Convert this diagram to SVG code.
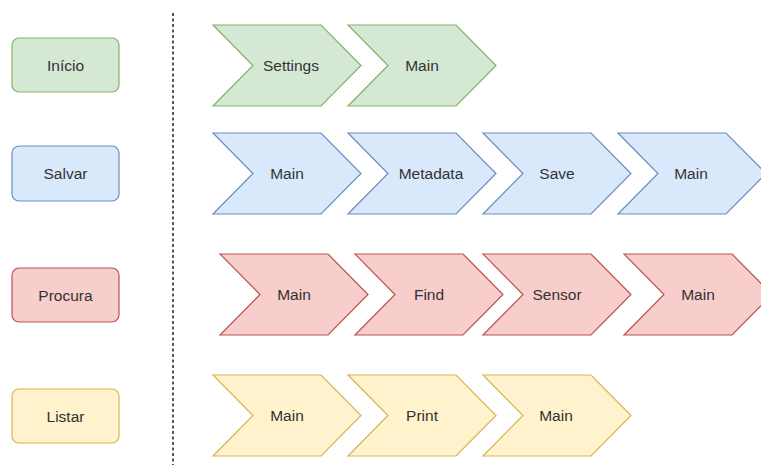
<svg xmlns="http://www.w3.org/2000/svg" width="761" height="465" viewBox="0 0 761 465">
  <defs>
    <style>
      text { font-family: "Liberation Sans", Arial, sans-serif; font-size: 15.5px; fill: #333333; text-anchor: middle; dominant-baseline: central; }
      .green { fill: #d5e8d4; stroke: #82b366; }
      .blue { fill: #dae8fc; stroke: #6c8ebf; }
      .red { fill: #f8cecc; stroke: #b85450; }
      .yellow { fill: #fff2cc; stroke: #d6b656; }
      rect, polygon { stroke-width: 1.2; }
    </style>
    <!-- step shape: 148 wide, 81 high, notch depth 40 -->
    <polygon id="step" points="0,0 108,0 148,40.5 108,81 0,81 40,40.5"/>
  </defs>
  <rect width="761" height="465" fill="#ffffff"/>

  <!-- separator -->
  <g id="connectors">
    <line x1="173" y1="13" x2="173" y2="465" stroke="#222222" stroke-width="1.5" stroke-dasharray="3 2.5"/>
  </g>

  <!-- legend -->
  <g id="inicio"><rect class="green" x="12" y="38" width="107" height="54" rx="7"/><text x="65.5" y="65">Início</text></g>
  <g id="salvar"><rect class="blue" x="12" y="146" width="107" height="55" rx="7"/><text x="65.5" y="173.5">Salvar</text></g>
  <g id="procura"><rect class="red" x="12" y="268" width="107" height="54" rx="7"/><text x="65.5" y="295">Procura</text></g>
  <g id="listar"><rect class="yellow" x="12" y="389" width="107" height="54" rx="7"/><text x="65.5" y="416">Listar</text></g>

  <!-- row 1: Início -->
  <g id="r1-settings"><use href="#step" class="green" x="213" y="25"/><text x="291" y="65.5">Settings</text></g>
  <g id="r1-main"><use href="#step" class="green" x="348" y="25"/><text x="422" y="65.5">Main</text></g>

  <!-- row 2: Salvar -->
  <g id="r2-main"><use href="#step" class="blue" x="213" y="133"/><text x="287" y="173.5">Main</text></g>
  <g id="r2-metadata"><use href="#step" class="blue" x="348" y="133"/><text x="431" y="173.5">Metadata</text></g>
  <g id="r2-save"><use href="#step" class="blue" x="483" y="133"/><text x="557" y="173.5">Save</text></g>
  <g id="r2-main2"><use href="#step" class="blue" x="618" y="133"/><text x="691" y="173.5">Main</text></g>

  <!-- row 3: Procura -->
  <g id="r3-main"><use href="#step" class="red" x="220" y="254"/><text x="294" y="294.5">Main</text></g>
  <g id="r3-find"><use href="#step" class="red" x="355" y="254"/><text x="429" y="294.5">Find</text></g>
  <g id="r3-sensor"><use href="#step" class="red" x="483" y="254"/><text x="557" y="294.5">Sensor</text></g>
  <g id="r3-main2"><use href="#step" class="red" x="624" y="254"/><text x="698" y="294.5">Main</text></g>

  <!-- row 4: Listar -->
  <g id="r4-main"><use href="#step" class="yellow" x="213" y="375"/><text x="287" y="415.5">Main</text></g>
  <g id="r4-print"><use href="#step" class="yellow" x="348" y="375"/><text x="422" y="415.5">Print</text></g>
  <g id="r4-main2"><use href="#step" class="yellow" x="483" y="375"/><text x="556" y="415.5">Main</text></g>
</svg>
